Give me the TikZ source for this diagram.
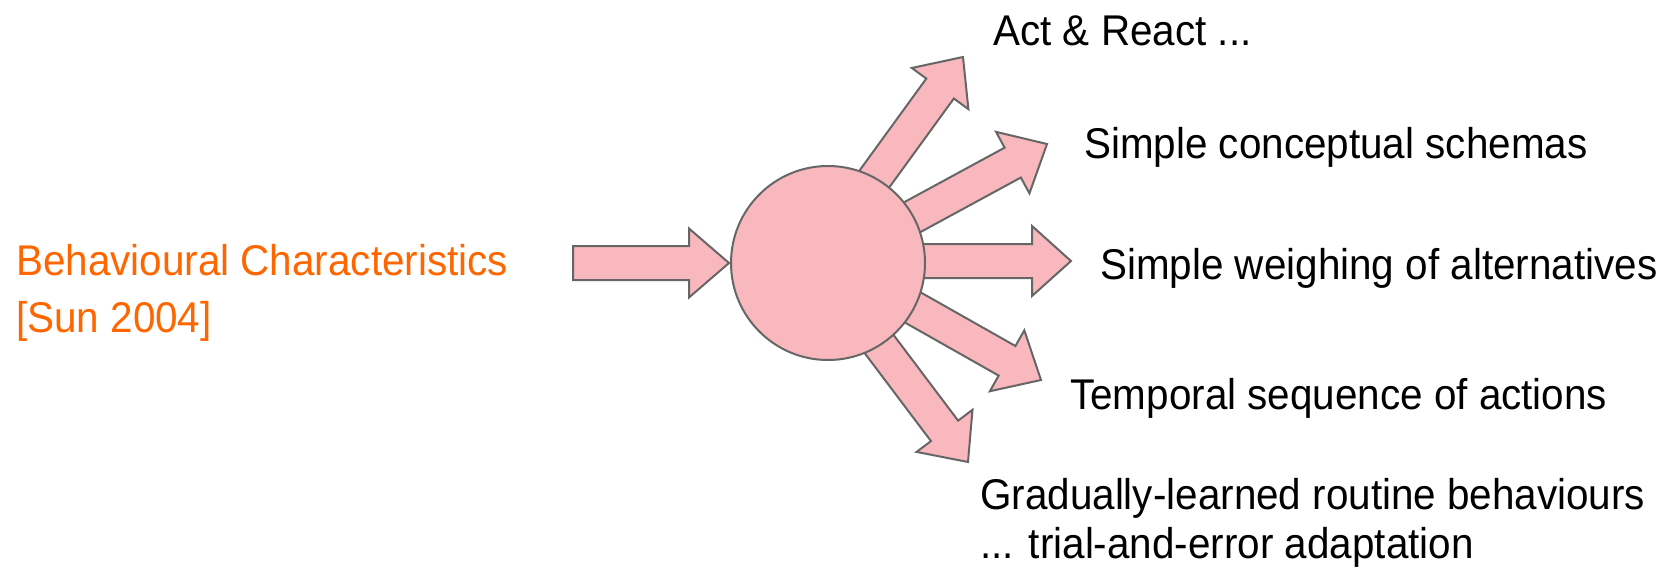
\documentclass[tikz,border=0pt]{standalone}
\usepackage{fontspec}
\setmainfont{Liberation Sans}[FakeStretch=0.94]
\definecolor{pinkfill}{RGB}{248,184,189}
\definecolor{edgegray}{RGB}{102,102,102}
\definecolor{orangetxt}{RGB}{255,102,0}
\tikzset{
  blockarrow/.style={fill=pinkfill, draw=edgegray, line width=2pt, line join=miter},
  hub/.style={circle, fill=pinkfill, draw=edgegray, line width=2pt, minimum size=194pt, inner sep=0pt},
  lbl/.style={anchor=base west, inner sep=0pt, font=\fontsize{43pt}{50pt}\selectfont, text=black},
  srclbl/.style={lbl, text=orangetxt, align=left}
}
% #1 tip, #2 angle, #3 total length
\newcommand\blockarr[3]{%
  \begin{scope}[shift={#1}, rotate=#2]
    \draw[blockarrow] (-#3,-17) -- (-39,-17) -- (-39,-35) -- (0,0) -- (-39,35) -- (-39,17) -- (-#3,17) -- cycle;
  \end{scope}}
\begin{document}
\begin{tikzpicture}[x=1pt, y=-1pt]
  \useasboundingbox (0,0) rectangle (1670,570);
  % input arrow
  \coordinate (intip) at (729,263);
  \begin{scope}[shift={(intip)}]
    \draw[blockarrow] (-156,-17) -- (-40,-17) -- (-40,-34.5) -- (0,0) -- (-40,34.5) -- (-40,17) -- (-156,17) -- cycle;
  \end{scope}
  % output arrows (behind hub)
  \coordinate (t1) at (963,57);
  \coordinate (t2) at (1047,144);
  \coordinate (t3) at (1071,261);
  \coordinate (t4) at (1041,380);
  \coordinate (t5) at (968,462);
  \blockarr{(t1)}{54}{230}
  \blockarr{(t2)}{28.5}{220}
  \blockarr{(t3)}{0}{230}
  \blockarr{(t4)}{-29.5}{220}
  \blockarr{(t5)}{-53}{220}
  % hub
  \node[hub] (hub) at (828,263) {};
  % labels
  \node[srclbl] (src) at (16,332) {Behavioural Characteristics\\[7pt][Sun 2004]};
  \node[lbl] (o1) at (993,45) {Act \& React ...};
  \node[lbl] (o2) at (1084,158) {Simple conceptual schemas};
  \node[lbl] (o3) at (1100,279) {Simple weighing of alternatives};
  \node[lbl] (o4) at (1070,409) {Temporal sequence of actions};
  \node[lbl] (o5) at (980,509) {Gradually-learned routine behaviours};
  \node[lbl] (o6) at (980,558) {... trial-and-error adaptation};
\end{tikzpicture}
\end{document}
